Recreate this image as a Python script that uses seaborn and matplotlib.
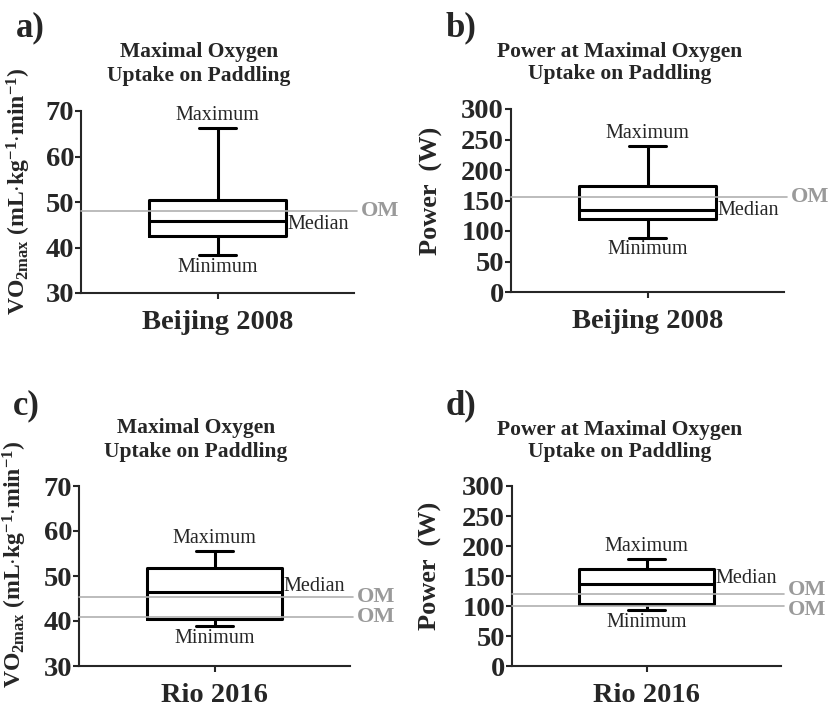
import matplotlib
matplotlib.use("Agg")
import matplotlib.pyplot as plt
import seaborn as sns

sns.set_style("ticks")
plt.rcParams["font.family"] = ["Liberation Serif", "DejaVu Serif"]
plt.rcParams["mathtext.fontset"] = "custom"
plt.rcParams["mathtext.rm"] = "Liberation Serif"
plt.rcParams["mathtext.bf"] = "Liberation Serif:bold"
plt.rcParams["mathtext.it"] = "Liberation Serif:italic"

# summary values: min, q1, median, q3, max
vo2_beijing = [38.4, 42.6, 45.9, 50.4, 66.3]
power_beijing = [89, 120, 134, 174, 240]
vo2_rio = [38.9, 40.5, 46.5, 51.8, 55.5]
power_rio = [92.6, 104, 137, 162, 178]

# Olympic medallist reference lines
om_vo2_beijing = [48.0]
om_power_beijing = [155]
om_vo2_rio = [45.3, 40.8]
om_power_rio = [120, 100]

games = ["Beijing 2008", "Beijing 2008", "Rio 2016", "Rio 2016"]
letters = ["a)", "b)", "c)", "d)"]
titles = ["Maximal Oxygen\nUptake on Paddling",
          "Power at Maximal Oxygen\nUptake on Paddling",
          "Maximal Oxygen\nUptake on Paddling",
          "Power at Maximal Oxygen\nUptake on Paddling"]
vo2_label = r"VO$_\mathregular{2max}$ (mL$\cdot$kg$^\mathregular{-1}$$\cdot$min$^\mathregular{-1}$)"
ylabels = [vo2_label, "Power  (W)", vo2_label, "Power  (W)"]
yticks_vo2 = [30, 40, 50, 60, 70]
yticks_power = [0, 50, 100, 150, 200, 250, 300]

panels = [
    (vo2_beijing, om_vo2_beijing, yticks_vo2),
    (power_beijing, om_power_beijing, yticks_power),
    (vo2_rio, om_vo2_rio, yticks_vo2),
    (power_rio, om_power_rio, yticks_power),
]

W, H = 832, 709
fig = plt.figure(figsize=(W / 100, H / 100), dpi=100)

# axes boxes in pixels: left, top, right, bottom
boxes = [(81, 111, 354, 293), (511, 109, 784, 292),
         (79, 486, 350, 666), (512, 486, 781, 666)]
letter_pos = [(16, 11), (446, 11), (13, 389), (446, 389)]
title_pos = [(199, 64), (620, 63), (196, 440), (620, 441)]
ylab_pos = [(-0.175, 0.56), (-0.25, 0.55), (-0.185, 0.567), (-0.26, 0.556)]
ylab_size = [17, 19, 17, 19]
median_off = [-3, 0, 4, 4]
om_off = [[0], [0], [0, 0], [3, -3]]
om_grey = "#9a9a9a"

for i, (vals, oms, yt) in enumerate(panels):
    l, t, r, b = boxes[i]
    ax = fig.add_axes([l / W, 1 - b / H, (r - l) / W, (b - t) / H])
    sns.boxplot(y=vals, whis=(0, 100), width=1.0, fill=False, color="black",
                linewidth=2.2, capwidths=0.27, ax=ax)
    ax.set_xlim(-1, 1)
    ax.set_ylim(yt[0], yt[-1])
    ax.set_yticks(yt)
    ax.set_yticklabels([str(v) for v in yt], fontsize=20.5, fontweight="bold")
    ax.set_xticks([0])
    ax.set_xticklabels([""])
    ax.tick_params(axis="both", length=4, width=1.5, pad=1)
    for s in ["top", "right"]:
        ax.spines[s].set_visible(False)
    for s in ["left", "bottom"]:
        ax.spines[s].set_linewidth(1.5)
    ax.set_xlabel(games[i], fontsize=20.5, fontweight="bold", labelpad=7)
    ax.set_ylabel(ylabels[i], fontsize=ylab_size[i], fontweight="bold")
    ax.yaxis.set_label_coords(*ylab_pos[i])

    for j, om in enumerate(oms):
        ax.axhline(om, xmin=0, xmax=1.01, color="#b0b0b0", lw=1.2,
                   zorder=3, clip_on=False)
        ax.annotate("OM", xy=(1.025, om), xycoords=("axes fraction", "data"),
                    xytext=(0, om_off[i][j]), textcoords="offset points",
                    ha="left", va="center", fontsize=16, fontweight="bold",
                    color=om_grey, annotation_clip=False)

    ax.annotate("Maximum", xy=(0, vals[4]), xytext=(0, 2), textcoords="offset points",
                ha="center", va="bottom", fontsize=14.5)
    ax.annotate("Minimum", xy=(0, vals[0]), xytext=(0, -2), textcoords="offset points",
                ha="center", va="top", fontsize=14.5)
    ax.annotate("Median", xy=(0.5, vals[2]), xytext=(1, median_off[i]),
                textcoords="offset points", ha="left", va="center", fontsize=14.5)

    fig.text(letter_pos[i][0] / W, 1 - letter_pos[i][1] / H, letters[i],
             fontsize=25, fontweight="bold", ha="left", va="top")
    fig.text(title_pos[i][0] / W, 1 - title_pos[i][1] / H, titles[i],
             fontsize=15.5, fontweight="bold", ha="center", va="center",
             linespacing=1.2)

fig.savefig("out.png", dpi=100)
